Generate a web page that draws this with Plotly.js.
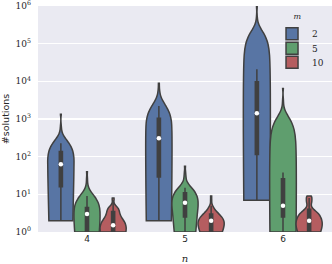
<!DOCTYPE html>
<html><head><meta charset="utf-8">
<script src="https://cdn.plot.ly/plotly-3.0.1.min.js"></script>
<style>html,body{margin:0;padding:0;background:#fff;} #chart{width:332px;height:264px;}</style>
</head><body><div id="chart"></div>
<script>
// categories
const nCategories = ['4', '5', '6'];
const mLevels = ['2', '5', '10'];
const yTickExponents = [0, 1, 2, 3, 4, 5, 6];

// #solutions samples (estimated), one array per (m, n)
const m2_n4 = [2,2,2,2,3,4,6,8,11,14, 18,22,27,32,38,44,50,55,58,61, 65,72,80,88,95,103,110,118,126,132, 142,155,170,185,200,212,228,380,600,1330];
const m2_n5 = [2,2,2,3,4,6,9,13,18,25, 33,45,60,80,105,135,170,210,255,290, 330,380,430,490,550,620,700,780,870,960, 1120,1300,1500,1800,2200,2700,3300,4200,6000,8900];
const m2_n6 = [7,8,10,14,20,28,40,55,75,105, 122,170,230,320,440,580,750,950,1150,1350, 1490,1800,2200,2700,3300,4000,4900,6000,7200,8700, 10700,13000,16000,21000,35000,60000,110000,220000,450000,980000];
const m5_n4 = [1,1,1,1,1,1,1,1,1,1,1, 2,2,2,2,2, 3,3,3,3,3,3,3,3,3, 4,4,4,4,4, 5,6,6,7,7,9,12,17,26,40];
const m5_n5 = [1,1,1,1,1,2,2,2,2,2, 3,3,4,4,4,5,5,5,6,6, 6,7,7,8,8,9,9,10,10,10, 12,13,13,14,14,15,25,30,40,56];
const m5_n6 = [1,1,1,1,1,1,2,2,2,2, 3,3,3,4,4,4,4,5,5,5, 5,6,7,8,9,11,13,15,18,22, 30,34,38,90,200,450,900,1600,3000,6500];
const m10_n4 = [1,1,1,1,1,1,1,1,1,1,1,1,1,1,1,1,1,1,1,1, 2,2,2,2,2,2, 3,3,3,3, 4,4,4,4,4,4,4, 5,7,8];
const m10_n5 = [1,1,1,1,1,1,1,1,1,1,1,1,1,1, 2,2,2,2,2,2,2,2,2,2,2,2,2,2,2, 3,3,3,3,3, 4,4,4, 5,7,9];
const m10_n6 = [1,1,1,1,1,1,1,1,1,1,1,1, 2,2,2,2,2,2,2,2,2, 3,3,3,3,3,3,3,3, 4,4, 5, 6,6, 7,7, 8,8, 9,9];

// KDE bandwidths (linear units) per m, for n = 4, 5, 6
const bw_m2 = [140, 1400, 150000];
const bw_m5 = [5, 6, 800];
const bw_m10 = [0.9, 0.9, 0.8];

const samples = [[m2_n4, m2_n5, m2_n6], [m5_n4, m5_n5, m5_n6], [m10_n4, m10_n5, m10_n6]];
const bandwidths = [bw_m2, bw_m5, bw_m10];
const colors = ['#5875a4', '#5f9e6e', '#b55d60'];
const legendIds = ['legend', 'legend2', 'legend3'];
const gray = '#404040';

function quantile(arr, p) {
  const s = arr.slice().sort((a, b) => a - b);
  const pos = (s.length - 1) * p;
  const lo = Math.floor(pos), hi = Math.ceil(pos);
  return s[lo] + (s[hi] - s[lo]) * (pos - lo);
}

const traces = [];
mLevels.forEach((m, i) => {
  nCategories.forEach((n, j) => {
    const ys = samples[i][j];
    traces.push({
      type: 'violin',
      x: ys.map(() => n),
      y: ys,
      name: m,
      legend: legendIds[i],
      legendgroup: m,
      showlegend: j === 0,
      offsetgroup: m,
      alignmentgroup: 'a',
      scalegroup: 'm' + m + 'n' + n,
      fillcolor: colors[i],
      line: {color: gray, width: 1.5},
      bandwidth: bandwidths[i][j],
      spanmode: 'hard',
      scalemode: 'width',
      points: 'outliers',
      marker: {opacity: 0, size: 1},
      box: {visible: true, width: 0.12, fillcolor: gray, line: {color: gray, width: 1.5}},
      meanline: {visible: false},
      hoverinfo: 'skip'
    });
  });
});
mLevels.forEach((m, i) => {
  traces.push({
    type: 'scatter',
    mode: 'markers',
    x: nCategories,
    y: samples[i].map(s => quantile(s, 0.5)),
    offsetgroup: m,
    alignmentgroup: 'a',
    showlegend: false,
    hoverinfo: 'skip',
    marker: {color: '#ffffff', size: 4.5, line: {width: 0}}
  });
});

const legendFont = {family: 'DejaVu Serif', size: 9, color: '#262626'};
const layout = {
  width: 332, height: 264,
  margin: {l: 38, r: 0, t: 6, b: 32},
  paper_bgcolor: '#ffffff',
  plot_bgcolor: '#EAEAF2',
  violinmode: 'group', violingap: 0.2, violingroupgap: 0,
  scattermode: 'group', scattergap: 0.2,
  showlegend: true,
  legend: {
    x: 0.796, y: 0.987, xanchor: 'left', yanchor: 'top',
    bgcolor: 'rgba(0,0,0,0)', tracegroupgap: 0, font: legendFont,
    title: {text: '<i>m</i>', side: 'top center', font: {family: 'DejaVu Serif', size: 8, color: '#262626'}}
  },
  legend2: {x: 0.796, y: 0.813, xanchor: 'left', yanchor: 'middle', bgcolor: 'rgba(0,0,0,0)', font: legendFont},
  legend3: {x: 0.796, y: 0.751, xanchor: 'left', yanchor: 'middle', bgcolor: 'rgba(0,0,0,0)', font: legendFont},
  xaxis: {
    type: 'category', categoryarray: nCategories, range: [-0.5, 2.5],
    showgrid: false, zeroline: false, showline: false, ticks: '',
    tickfont: {family: 'DejaVu Sans', size: 9, color: '#262626'},
    title: {text: '<i>n</i>', font: {family: 'DejaVu Serif', size: 10, color: '#262626'}, standoff: 12}
  },
  yaxis: {
    type: 'log', range: [0, 6],
    tickvals: yTickExponents.map(e => Math.pow(10, e)),
    ticktext: yTickExponents.map(e => '10<sup>' + e + '</sup>'),
    ticklabeloverflow: 'allow',
    gridcolor: '#ffffff', gridwidth: 1.2, showline: false, zeroline: false, ticks: '',
    ticklabelstandoff: 6,
    tickfont: {family: 'DejaVu Serif', size: 9, color: '#262626'},
    title: {text: '#solutions', font: {family: 'DejaVu Sans', size: 9.5, color: '#262626'}, standoff: 6}
  }
};

Plotly.newPlot('chart', traces, layout, {displayModeBar: false, staticPlot: true});
</script>
</body></html>
